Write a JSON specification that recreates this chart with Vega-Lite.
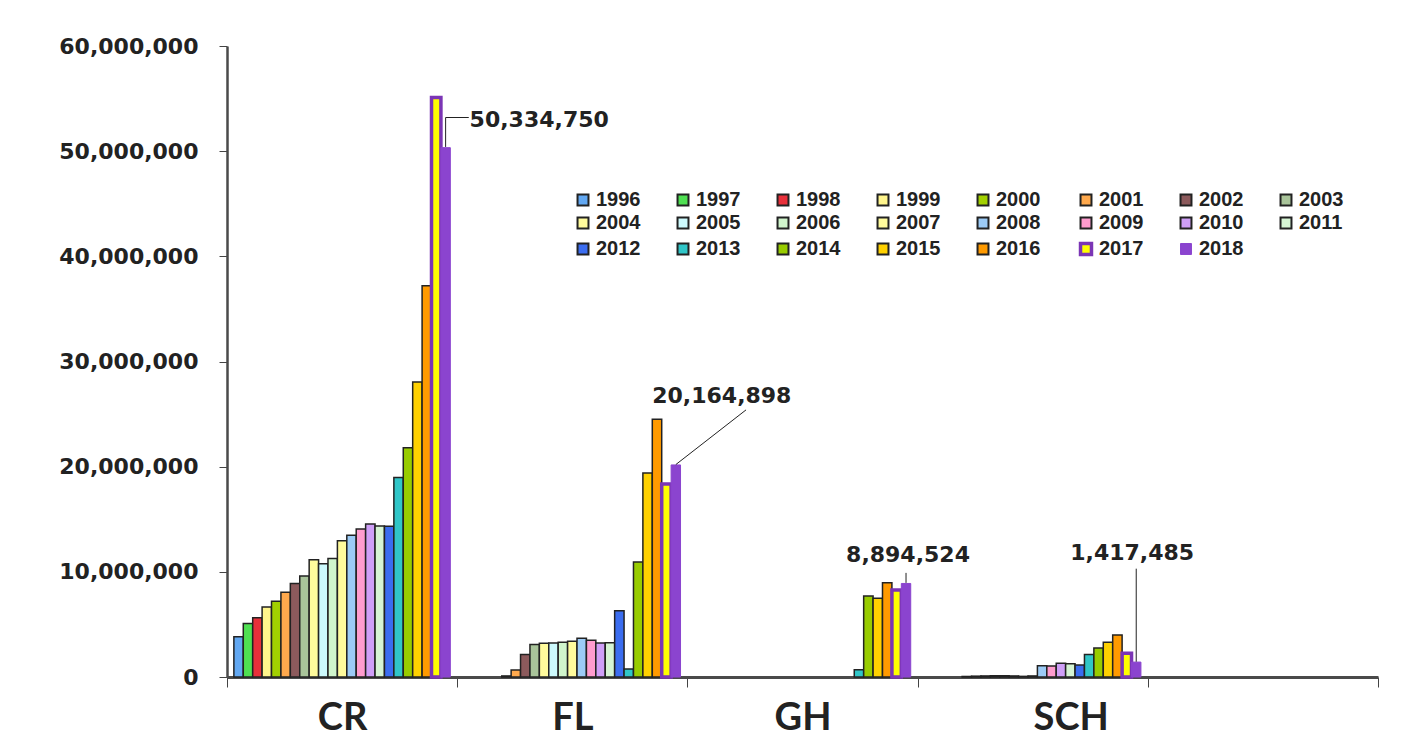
{
  "$schema": "https://vega.github.io/schema/vega-lite/v6.json",
  "autosize": "none",
  "width": 1151,
  "height": 631,
  "padding": {"left": 227, "top": 46, "right": 28, "bottom": 73},
  "background": "white",
  "datasets": {
    "bars": [
      {"cat": "CR", "year": "1996", "value": 3820000},
      {"cat": "CR", "year": "1997", "value": 5090000},
      {"cat": "CR", "year": "1998", "value": 5640000},
      {"cat": "CR", "year": "1999", "value": 6650000},
      {"cat": "CR", "year": "2000", "value": 7200000},
      {"cat": "CR", "year": "2001", "value": 8070000},
      {"cat": "CR", "year": "2002", "value": 8900000},
      {"cat": "CR", "year": "2003", "value": 9600000},
      {"cat": "CR", "year": "2004", "value": 11160000},
      {"cat": "CR", "year": "2005", "value": 10760000},
      {"cat": "CR", "year": "2006", "value": 11270000},
      {"cat": "CR", "year": "2007", "value": 12950000},
      {"cat": "CR", "year": "2008", "value": 13490000},
      {"cat": "CR", "year": "2009", "value": 14070000},
      {"cat": "CR", "year": "2010", "value": 14550000},
      {"cat": "CR", "year": "2011", "value": 14360000},
      {"cat": "CR", "year": "2012", "value": 14330000},
      {"cat": "CR", "year": "2013", "value": 18980000},
      {"cat": "CR", "year": "2014", "value": 21800000},
      {"cat": "CR", "year": "2015", "value": 28040000},
      {"cat": "CR", "year": "2016", "value": 37200000},
      {"cat": "CR", "year": "2017", "value": 55100000},
      {"cat": "CR", "year": "2018", "value": 50334750},
      {"cat": "FL", "year": "2000", "value": 100000},
      {"cat": "FL", "year": "2001", "value": 670000},
      {"cat": "FL", "year": "2002", "value": 2150000},
      {"cat": "FL", "year": "2003", "value": 3100000},
      {"cat": "FL", "year": "2004", "value": 3200000},
      {"cat": "FL", "year": "2005", "value": 3230000},
      {"cat": "FL", "year": "2006", "value": 3300000},
      {"cat": "FL", "year": "2007", "value": 3390000},
      {"cat": "FL", "year": "2008", "value": 3680000},
      {"cat": "FL", "year": "2009", "value": 3490000},
      {"cat": "FL", "year": "2010", "value": 3230000},
      {"cat": "FL", "year": "2011", "value": 3260000},
      {"cat": "FL", "year": "2012", "value": 6300000},
      {"cat": "FL", "year": "2013", "value": 760000},
      {"cat": "FL", "year": "2014", "value": 10930000},
      {"cat": "FL", "year": "2015", "value": 19400000},
      {"cat": "FL", "year": "2016", "value": 24500000},
      {"cat": "FL", "year": "2017", "value": 18350000},
      {"cat": "FL", "year": "2018", "value": 20164898},
      {"cat": "GH", "year": "2013", "value": 700000},
      {"cat": "GH", "year": "2014", "value": 7700000},
      {"cat": "GH", "year": "2015", "value": 7500000},
      {"cat": "GH", "year": "2016", "value": 8970000},
      {"cat": "GH", "year": "2017", "value": 8270000},
      {"cat": "GH", "year": "2018", "value": 8894524},
      {"cat": "SCH", "year": "2000", "value": 50000},
      {"cat": "SCH", "year": "2001", "value": 80000},
      {"cat": "SCH", "year": "2002", "value": 100000},
      {"cat": "SCH", "year": "2003", "value": 120000},
      {"cat": "SCH", "year": "2004", "value": 120000},
      {"cat": "SCH", "year": "2005", "value": 100000},
      {"cat": "SCH", "year": "2006", "value": 60000},
      {"cat": "SCH", "year": "2007", "value": 100000},
      {"cat": "SCH", "year": "2008", "value": 1080000},
      {"cat": "SCH", "year": "2009", "value": 1050000},
      {"cat": "SCH", "year": "2010", "value": 1300000},
      {"cat": "SCH", "year": "2011", "value": 1270000},
      {"cat": "SCH", "year": "2012", "value": 1140000},
      {"cat": "SCH", "year": "2013", "value": 2150000},
      {"cat": "SCH", "year": "2014", "value": 2760000},
      {"cat": "SCH", "year": "2015", "value": 3300000},
      {"cat": "SCH", "year": "2016", "value": 4000000},
      {"cat": "SCH", "year": "2017", "value": 2250000},
      {"cat": "SCH", "year": "2018", "value": 1417485}
    ],
    "labels": [
      {"cat": "CR", "year": "2018", "labelY": 52950000, "label": "50,334,750"},
      {"cat": "FL", "year": "2018", "labelY": 26700000, "label": "20,164,898"},
      {"cat": "GH", "year": "2018", "labelY": 11600000, "label": "8,894,524"},
      {"cat": "SCH", "year": "2018", "labelY": 11800000, "label": "1,417,485"}
    ],
    "leaders": [
      {"lid": "CR", "cat": "CR", "year": "2018", "value": 50400000, "seq": 1},
      {"lid": "CR", "cat": "CR", "year": "2018", "value": 53200000, "seq": 2},
      {"lid": "CR", "cat": "FL", "year": "1996", "value": 53200000, "seq": 3},
      {"lid": "FL", "cat": "FL", "year": "2018", "value": 20200000, "seq": 1},
      {"lid": "FL", "cat": "GH", "year": "2001", "value": 25400000, "seq": 2},
      {"lid": "GH", "cat": "GH", "year": "2018", "value": 8950000, "seq": 1},
      {"lid": "GH", "cat": "GH", "year": "2018", "value": 9900000, "seq": 2},
      {"lid": "SCH", "cat": "SCH", "year": "2018", "value": 1450000, "seq": 1},
      {"lid": "SCH", "cat": "SCH", "year": "2018", "value": 10300000, "seq": 2}
    ]
  },
  "encoding": {
    "x": {
      "field": "cat", "type": "nominal",
      "scale": {"domain": ["CR", "FL", "GH", "SCH", ""], "paddingInner": 0, "paddingOuter": 0},
      "axis": {
        "title": null, "labelAngle": 0, "tickBand": "extent", "tickSize": 10, "tickColor": "#444", "tickWidth": 1,
        "domainColor": "#4a4a4a", "domainWidth": 3,
        "labelFont": "Lato", "labelFontWeight": "bold", "labelFontSize": 38, "labelColor": "#222",
        "labelPadding": 12, "labelBaseline": "top",
        "labelOffset": {"condition": {"test": "datum.value === 'SCH'", "value": 38}, "value": 0}
      }
    },
    "xOffset": {
      "field": "year", "type": "nominal",
      "scale": {"domain": ["1996","1997","1998","1999","2000","2001","2002","2003","2004","2005","2006","2007","2008","2009","2010","2011","2012","2013","2014","2015","2016","2017","2018"], "paddingOuter": 0.73, "paddingInner": 0}
    }
  },
  "layer": [
    {
      "data": {"name": "bars"},
      "mark": {"type": "bar", "strokeJoin": "miter"},
      "encoding": {
        "y": {
          "field": "value", "type": "quantitative",
          "scale": {"domain": [0, 60000000], "nice": false},
          "axis": {
            "title": null, "grid": false, "values": [0, 10000000, 20000000, 30000000, 40000000, 50000000, 60000000],
            "format": ",d", "tickSize": 8, "tickColor": "#444", "domainColor": "#4a4a4a", "domainWidth": 2.5,
            "labelFont": "DejaVu Sans", "labelFontWeight": "bold", "labelFontSize": 22, "labelColor": "#222",
            "labelPadding": 21
          }
        },
        "fill": {
          "field": "year", "type": "nominal",
          "scale": {
            "domain": ["1996","1997","1998","1999","2000","2001","2002","2003","2004","2005","2006","2007","2008","2009","2010","2011","2012","2013","2014","2015","2016","2017","2018"],
            "range": ["#62a8f2","#4fe052","#e8303a","#fff58c","#a2d000","#ffa94d","#8c5a5c","#a9c49a","#fffb9c","#cdfafd","#d0f5cc","#fffb9c","#9ccbf6","#ff9cce","#cf9ff7","#d6f5d4","#3b6df0","#30c6c8","#98cc00","#ffd100","#ff9a00","#ffff00","#8b44cf"]
          },
          "legend": {
            "title": null, "orient": "none", "legendX": 346, "legendY": 144, "columns": 8, "direction": "horizontal",
            "symbolType": "square", "symbolSize": 120, "symbolOpacity": 1,
            "labelFont": "Liberation Sans", "labelFontWeight": "bold", "labelFontSize": 20, "labelColor": "#222",
            "labelOffset": 3, "columnPadding": 32, "rowPadding": 3, "padding": 0,
            "encode": {"symbols": {"update": {"strokeWidth": {"signal": "datum.value === '2017' ? 3.5 : (datum.value === '2018' ? 1 : 2)"}}}}
          }
        },
        "stroke": {
          "field": "year", "type": "nominal",
          "scale": {
            "domain": ["1996","1997","1998","1999","2000","2001","2002","2003","2004","2005","2006","2007","2008","2009","2010","2011","2012","2013","2014","2015","2016","2017","2018"],
            "range": ["#222","#222","#222","#222","#222","#222","#222","#222","#222","#222","#222","#222","#222","#222","#222","#222","#222","#222","#222","#222","#222","#7b35b5","#8b44cf"]
          }
        },
        "strokeWidth": {
          "condition": [
            {"test": "datum.year === '2017'", "value": 3.5},
            {"test": "datum.year === '2018'", "value": 1}
          ],
          "value": 1.5
        }
      }
    },
    {
      "data": {"name": "leaders"},
      "mark": {"type": "line", "color": "#222", "strokeWidth": 1},
      "encoding": {
        "y": {"field": "value", "type": "quantitative"},
        "detail": {"field": "lid"},
        "order": {"field": "seq", "type": "quantitative"}
      }
    },
    {
      "data": {"name": "labels"},
      "transform": [{"filter": "datum.cat === 'CR'"}],
      "mark": {"type": "text", "align": "left", "baseline": "middle", "dx": 24, "font": "DejaVu Sans", "fontWeight": "bold", "fontSize": 22, "color": "#222"},
      "encoding": {"y": {"field": "labelY", "type": "quantitative"}, "text": {"field": "label"}}
    },
    {
      "data": {"name": "labels"},
      "transform": [{"filter": "datum.cat === 'FL'"}],
      "mark": {"type": "text", "align": "center", "baseline": "middle", "dx": 46, "font": "DejaVu Sans", "fontWeight": "bold", "fontSize": 22, "color": "#222"},
      "encoding": {"y": {"field": "labelY", "type": "quantitative"}, "text": {"field": "label"}}
    },
    {
      "data": {"name": "labels"},
      "transform": [{"filter": "datum.cat === 'GH'"}],
      "mark": {"type": "text", "align": "center", "baseline": "middle", "dx": 2, "font": "DejaVu Sans", "fontWeight": "bold", "fontSize": 22, "color": "#222"},
      "encoding": {"y": {"field": "labelY", "type": "quantitative"}, "text": {"field": "label"}}
    },
    {
      "data": {"name": "labels"},
      "transform": [{"filter": "datum.cat === 'SCH'"}],
      "mark": {"type": "text", "align": "center", "baseline": "middle", "dx": -4, "font": "DejaVu Sans", "fontWeight": "bold", "fontSize": 22, "color": "#222"},
      "encoding": {"y": {"field": "labelY", "type": "quantitative"}, "text": {"field": "label"}}
    }
  ],
  "config": {"view": {"stroke": null}}
}
